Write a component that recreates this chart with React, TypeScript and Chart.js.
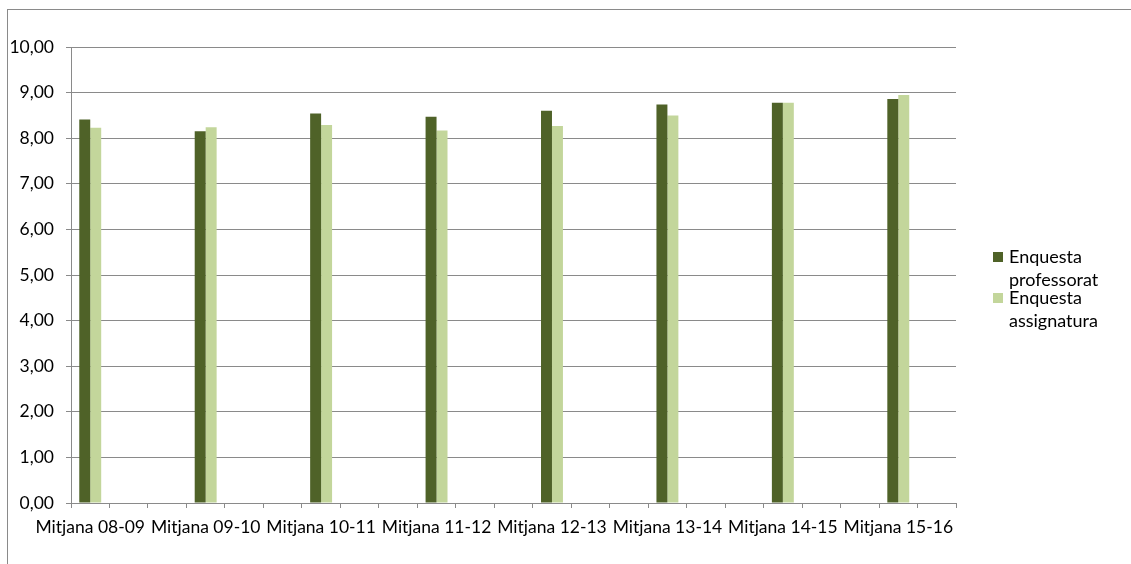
import React, { useEffect, useRef } from "react";
import { Chart, registerables } from "chart.js";

Chart.register(...registerables);

const seasons = [
  "Mitjana 08-09",
  "Mitjana 09-10",
  "Mitjana 10-11",
  "Mitjana 11-12",
  "Mitjana 12-13",
  "Mitjana 13-14",
  "Mitjana 14-15",
  "Mitjana 15-16",
];
const professorat = [8.41, 8.15, 8.54, 8.47, 8.6, 8.74, 8.78, 8.86];
const assignatura = [8.23, 8.24, 8.29, 8.17, 8.27, 8.5, 8.78, 8.95];
const seriesNames = ["Enquesta professorat", "Enquesta assignatura"];
const yTicks = [0, 1, 2, 3, 4, 5, 6, 7, 8, 9, 10];

const DARK = "#4F6228";
const LIGHT = "#C3D69B";
const GRID = "#8a8a8a";
const FONT = "Lato, 'Open Sans', sans-serif";
const FS = 17.5;
const TEXT = "#000";

// Source sheet has empty rows between the seasons (two between, one after the last)
function spread<T>(arr: T[], blank: T): T[] {
  const out: T[] = [];
  arr.forEach((v, i) => {
    out.push(v);
    if (i < arr.length - 1) out.push(blank, blank);
    else out.push(blank);
  });
  return out;
}

export default function App() {
  const ref = useRef<HTMLCanvasElement | null>(null);

  useEffect(() => {
    if (!ref.current) return;
    const chart = new Chart(ref.current, {
      type: "bar",
      data: {
        labels: spread<string>(seasons, ""),
        datasets: [
          {
            label: seriesNames[0],
            data: spread<number | null>(professorat, null),
            backgroundColor: DARK,
            barPercentage: 1,
            categoryPercentage: 0.57,
          },
          {
            label: seriesNames[1],
            data: spread<number | null>(assignatura, null),
            backgroundColor: LIGHT,
            barPercentage: 1,
            categoryPercentage: 0.57,
          },
        ],
      },
      options: {
        animation: false,
        responsive: true,
        maintainAspectRatio: false,
        layout: { padding: { left: 0, right: 175, top: 37, bottom: 11 } },
        plugins: {
          legend: { display: false },
          tooltip: { enabled: false },
        },
        scales: {
          x: {
            offset: true,
            afterFit: (s: any) => {
              s.height = 50;
            },
            grid: {
              display: true,
              offset: true,
              drawOnChartArea: false,
              drawTicks: true,
              tickLength: 5,
              color: GRID,
            },
            border: { display: true, color: GRID, width: 1 },
            ticks: {
              autoSkip: false,
              maxRotation: 0,
              minRotation: 0,
              padding: 9,
              color: TEXT,
              font: { family: FONT, size: FS },
            },
          },
          y: {
            min: 0,
            max: 10,
            afterFit: (s: any) => {
              s.width = 63;
            },
            afterBuildTicks: (s: any) => {
              s.ticks = yTicks.map((v) => ({ value: v }));
            },
            grid: {
              color: GRID,
              lineWidth: 1,
              drawTicks: true,
              tickLength: 5,
            },
            border: { display: true, color: GRID, width: 1 },
            ticks: {
              padding: 12,
              color: TEXT,
              font: { family: FONT, size: FS },
              callback: (v: any) => Number(v).toFixed(2).replace(".", ","),
            },
          },
        },
      },
    });
    return () => chart.destroy();
  }, []);

  const legendItem = (top: number, color: string, text: string) => (
    <div style={{ position: "absolute", left: 985, top, width: 140 }}>
      <div
        style={{
          position: "absolute",
          left: 0,
          top: 7,
          width: 10,
          height: 10,
          background: color,
        }}
      />
      <div
        style={{
          position: "absolute",
          left: 16,
          top: 0,
          width: 115,
          fontFamily: FONT,
          fontSize: 18,
          lineHeight: "23px",
          color: TEXT,
        }}
      >
        {text}
      </div>
    </div>
  );

  return (
    <div
      style={{
        position: "fixed",
        left: 7,
        top: 9,
        width: 1124,
        height: 555,
        boxSizing: "border-box",
        borderTop: "1px solid #8a8a8a",
        borderLeft: "1px solid #8a8a8a",
        background: "#fff",
        overflow: "hidden",
      }}
    >
      <div style={{ position: "absolute", left: 0, top: 0, width: 1123, height: 554 }}>
        <canvas ref={ref} />
      </div>
      {legendItem(235, DARK, seriesNames[0])}
      {legendItem(276, LIGHT, seriesNames[1])}
    </div>
  );
}
